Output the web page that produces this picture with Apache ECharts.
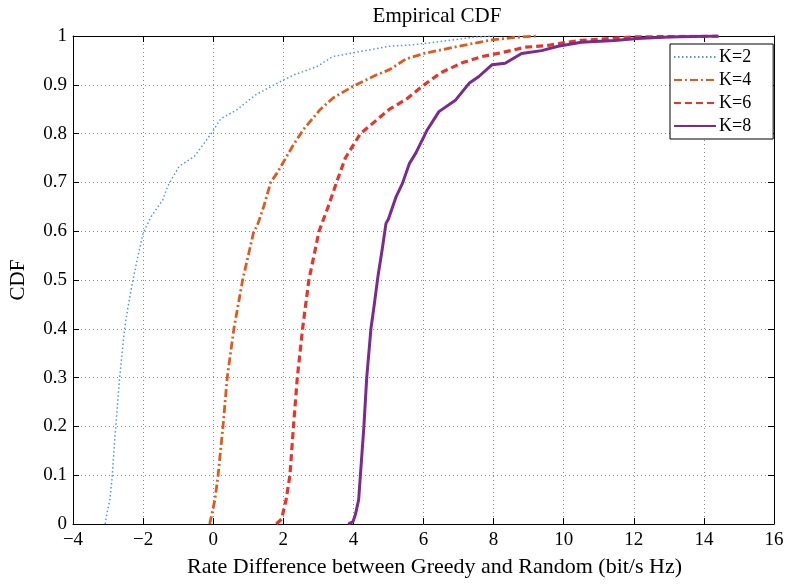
<!DOCTYPE html>
<html>
<head>
<meta charset="utf-8">
<script src="https://cdn.jsdelivr.net/npm/echarts@6/dist/echarts.min.js"></script>
<style>html,body{margin:0;padding:0;background:#fff;}#c{width:790px;height:586px;}</style>
</head>
<body>
<div id="c"></div>
<script>
// ---- data ----
var seriesNames = ['K=2', 'K=4', 'K=6', 'K=8'];
var xTicks = [-4, -2, 0, 2, 4, 6, 8, 10, 12, 14, 16];
var yTicks = [0, 0.1, 0.2, 0.3, 0.4, 0.5, 0.6, 0.7, 0.8, 0.9, 1];

var k2X = [-3.08, -3.05, -2.95, -2.88, -2.81, -2.78, -2.72, -2.67, -2.6, -2.53, -2.43, -2.29, -2.15, -2.0, -1.77, -1.44, -1.3, -0.97, -0.54, -0.26, 0.02, 0.21, 0.68, 1.2, 1.82, 2.29, 2.95, 3.42, 4.18, 5.03, 5.69, 6.06, 7.48, 8.05];
var k2Y = [0, 0.015, 0.049, 0.098, 0.172, 0.198, 0.254, 0.299, 0.35, 0.399, 0.445, 0.5, 0.548, 0.596, 0.63, 0.664, 0.692, 0.733, 0.753, 0.78, 0.808, 0.83, 0.849, 0.879, 0.903, 0.92, 0.937, 0.958, 0.968, 0.979, 0.982, 0.985, 0.998, 1.0];

var k4X = [-0.1, -0.07, 0.05, 0.14, 0.28, 0.40, 0.59, 0.84, 1.16, 1.25, 1.44, 1.64, 1.82, 2.29, 2.57, 3.05, 3.42, 3.99, 4.65, 5.03, 5.5, 6.06, 7.0, 7.95, 8.61, 9.2];
var k4Y = [0, 0.01, 0.05, 0.1, 0.2, 0.3, 0.4, 0.5, 0.6, 0.61, 0.65, 0.7, 0.719, 0.777, 0.808, 0.849, 0.873, 0.897, 0.92, 0.931, 0.953, 0.965, 0.979, 0.992, 0.997, 1.0];

var k6X = [1.8, 1.95, 2.08, 2.19, 2.29, 2.40, 2.55, 2.73, 3.02, 3.28, 3.52, 3.77, 4.2, 4.7, 5.03, 5.5, 6.02, 6.5, 7.1, 7.67, 8.24, 8.9, 9.5, 9.98, 10.5, 11.6, 12.0, 14.5];
var k6Y = [0, 0.01, 0.05, 0.1, 0.2, 0.3, 0.4, 0.5, 0.6, 0.65, 0.7, 0.75, 0.8, 0.83, 0.85, 0.87, 0.9, 0.925, 0.945, 0.958, 0.966, 0.977, 0.98, 0.986, 0.991, 0.996, 0.998, 1.0];

var k8X = [3.85, 3.99, 4.06, 4.15, 4.2, 4.3, 4.38, 4.5, 4.6, 4.7, 4.82, 4.93, 5.0, 5.22, 5.4, 5.6, 5.78, 6.11, 6.44, 6.92, 7.3, 7.58, 7.95, 8.33, 8.8, 9.37, 9.84, 10.5, 11.45, 12.1, 13.0, 14.4];
var k8Y = [0, 0.005, 0.02, 0.05, 0.1, 0.2, 0.3, 0.4, 0.452, 0.507, 0.562, 0.616, 0.625, 0.671, 0.698, 0.739, 0.76, 0.808, 0.845, 0.869, 0.903, 0.917, 0.941, 0.944, 0.964, 0.97, 0.979, 0.987, 0.991, 0.995, 0.998, 1.0];

function pairs(xs, ys) { return xs.map(function (x, i) { return [x, ys[i]]; }); }

var FONT = '"Liberation Serif", "DejaVu Serif", serif';
var chart = echarts.init(document.getElementById('c'), null, {renderer: 'canvas'});

var xMin = xTicks[0], xMax = xTicks[xTicks.length - 1], xInt = xTicks[1] - xTicks[0];
var yMin = yTicks[0], yMax = yTicks[yTicks.length - 1];

function fmtX(v) { return String(v).replace('-', '\u2212'); }

var option = {
  backgroundColor: '#fff',
  animation: false,
  title: {
    text: 'Empirical CDF', left: 432, top: 1, textAlign: 'center',
    textStyle: {fontFamily: FONT, fontSize: 21, fontWeight: 'normal', color: '#000'}
  },
  grid: {left: 68, right: 16, top: 36, bottom: 62, containLabel: false},
  legend: {
    orient: 'vertical', left: 670, top: 44,
    backgroundColor: '#fff', borderColor: '#000', borderWidth: 1, borderRadius: 0,
    padding: [4, 22, 4, 3], itemGap: 5, itemWidth: 42, itemHeight: 14,
    itemStyle: {opacity: 0},
    textStyle: {fontFamily: FONT, fontSize: 18, lineHeight: 14, color: '#000', padding: [0, 0, 0, -2]},
    data: seriesNames
  },
  xAxis: [{
    type: 'value', min: xMin, max: xMax, interval: xInt, position: 'bottom',
    name: 'Rate Difference between Greedy and Random (bit/s Hz)', nameLocation: 'middle', nameGap: 32,
    nameTextStyle: {fontFamily: FONT, fontSize: 22, color: '#000', padding: [0, 0, 0, 22]},
    axisLine: {show: true, onZero: false, lineStyle: {color: '#000', width: 1}},
    axisTick: {show: true, inside: true, length: 6, lineStyle: {color: '#000'}},
    axisLabel: {fontFamily: FONT, fontSize: 19, color: '#000', margin: 7, formatter: fmtX},
    splitLine: {show: true, lineStyle: {color: '#8a8a8a', type: [1, 3], width: 1}}
  }, {
    type: 'value', min: xMin, max: xMax, interval: xInt, position: 'top',
    axisLine: {show: true, onZero: false, lineStyle: {color: '#000', width: 1}},
    axisTick: {show: true, inside: true, length: 6, lineStyle: {color: '#000'}},
    axisLabel: {show: false}, splitLine: {show: false}
  }],
  yAxis: [{
    type: 'value', min: yMin, max: yMax, interval: 0.1, position: 'left',
    name: 'CDF', nameLocation: 'middle', nameGap: 44,
    nameTextStyle: {fontFamily: FONT, fontSize: 21, color: '#000'},
    axisLine: {show: true, onZero: false, lineStyle: {color: '#000', width: 1}},
    axisTick: {show: true, inside: true, length: 6, lineStyle: {color: '#000'}},
    axisLabel: {fontFamily: FONT, fontSize: 19, color: '#000', margin: 6,
      formatter: function (v) { return String(Math.round(v * 10) / 10); }},
    splitLine: {show: true, lineStyle: {color: '#8a8a8a', type: [1, 3], width: 1}}
  }, {
    type: 'value', min: yMin, max: yMax, interval: 0.1, position: 'right',
    axisLine: {show: true, onZero: false, lineStyle: {color: '#000', width: 1}},
    axisTick: {show: true, inside: true, length: 6, lineStyle: {color: '#000'}},
    axisLabel: {show: false}, splitLine: {show: false}
  }],
  series: [
    {name: seriesNames[0], type: 'line', showSymbol: false, symbol: 'none', data: pairs(k2X, k2Y),
     color: '#4f98dc', lineStyle: {color: '#4f98dc', width: 1.5, type: [1.5, 2.5]}},
    {name: seriesNames[1], type: 'line', showSymbol: false, symbol: 'none', data: pairs(k4X, k4Y),
     color: '#e05a1c', lineStyle: {color: '#e05a1c', width: 2.8, type: [8, 3, 2, 3]}},
    {name: seriesNames[2], type: 'line', showSymbol: false, symbol: 'none', data: pairs(k6X, k6Y),
     color: '#e8352a', lineStyle: {color: '#e8352a', width: 3.2, type: [7, 4]}},
    {name: seriesNames[3], type: 'line', showSymbol: false, symbol: 'none', data: pairs(k8X, k8Y),
     color: '#7b2a90', lineStyle: {color: '#7b2a90', width: 3, type: 'solid'}}
  ]
};
chart.setOption(option);
</script>
</body>
</html>
